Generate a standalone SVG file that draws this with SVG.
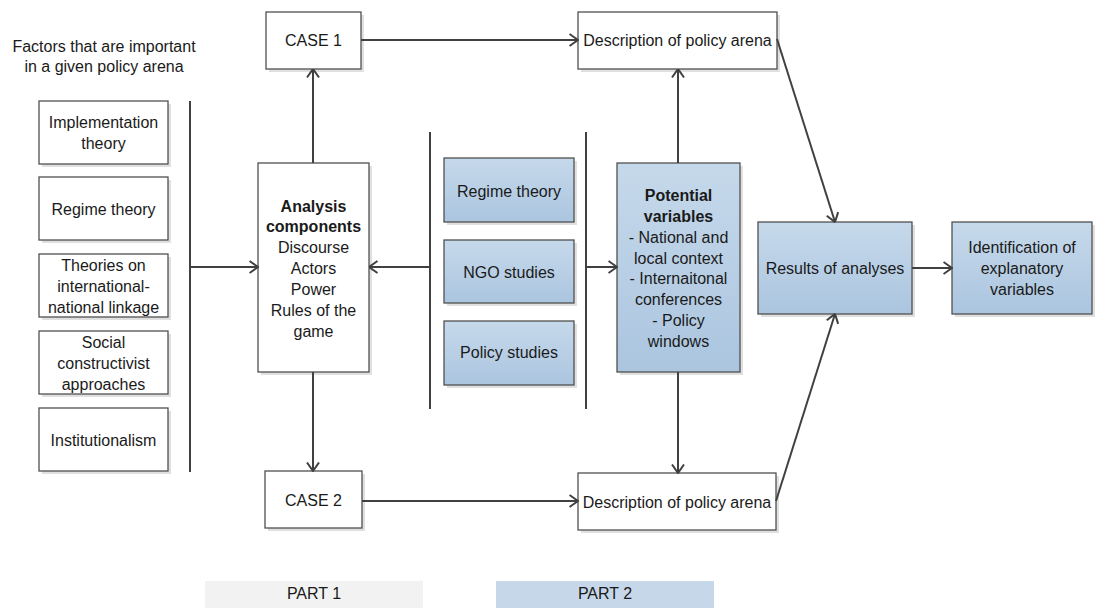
<svg xmlns="http://www.w3.org/2000/svg" width="1098" height="608" viewBox="0 0 1098 608">
<style>
text{font-family:"Liberation Sans",Arial,sans-serif;font-size:16px;fill:#1a1a1a;text-anchor:middle}
.b{font-weight:bold}
.w{fill:#fff;stroke:#505050;stroke-width:1.3}
.bl{fill:url(#g);stroke:#505050;stroke-width:1.3}
.sh{fill:#e0e0e0}
.c line,.c path{stroke:#404040;stroke-width:2;fill:none}
</style>
<defs>
<linearGradient id="g" x1="0" y1="0" x2="0" y2="1">
<stop offset="0" stop-color="#c6d9eb"/>
<stop offset="1" stop-color="#abc5df"/>
</linearGradient>
<marker id="a" viewBox="0 0 10 14" refX="9.5" refY="7" markerWidth="10" markerHeight="14" orient="auto" markerUnits="userSpaceOnUse">
<path d="M1,1 L9.5,7 L1,13" fill="none" stroke="#404040" stroke-width="2"/>
</marker>
</defs>
<rect width="1098" height="608" fill="#fff"/>

<g id="title">
<text x="104" y="52">Factors that are important</text>
<text x="104" y="72">in a given policy arena</text>
</g>

<g id="implementation">
<rect class="sh" x="42" y="104" width="129" height="63"/>
<rect class="w" x="39" y="101" width="129" height="63"/>
<text x="103.5" y="128">Implementation</text>
<text x="103.5" y="149">theory</text>
</g>
<g id="regime1">
<rect class="sh" x="42" y="180" width="129" height="63"/>
<rect class="w" x="39" y="177" width="129" height="63"/>
<text x="103.5" y="215">Regime theory</text>
</g>
<g id="linkage">
<rect class="sh" x="42" y="257" width="129" height="63"/>
<rect class="w" x="39" y="254" width="129" height="63"/>
<text x="103.5" y="271">Theories on</text>
<text x="103.5" y="292">international-</text>
<text x="103.5" y="313">national linkage</text>
</g>
<g id="social">
<rect class="sh" x="42" y="334" width="129" height="63"/>
<rect class="w" x="39" y="331" width="129" height="63"/>
<text x="103.5" y="348">Social</text>
<text x="103.5" y="369">constructivist</text>
<text x="103.5" y="390">approaches</text>
</g>
<g id="institutionalism">
<rect class="sh" x="42" y="411" width="129" height="63"/>
<rect class="w" x="39" y="408" width="129" height="63"/>
<text x="103.5" y="446">Institutionalism</text>
</g>

<g id="analysis">
<rect class="sh" x="261" y="166" width="111" height="209"/>
<rect class="w" x="258" y="163" width="111" height="209"/>
<text class="b" x="313.5" y="212">Analysis</text>
<text class="b" x="313.5" y="232">components</text>
<text x="313.5" y="253">Discourse</text>
<text x="313.5" y="274">Actors</text>
<text x="313.5" y="295">Power</text>
<text x="313.5" y="316">Rules of the</text>
<text x="313.5" y="337">game</text>
</g>

<g id="case1">
<rect class="sh" x="269" y="15" width="95" height="57"/>
<rect class="w" x="266" y="12" width="95" height="57"/>
<text x="313.5" y="46">CASE 1</text>
</g>
<g id="case2">
<rect class="sh" x="268" y="474" width="97" height="57"/>
<rect class="w" x="265" y="471" width="97" height="57"/>
<text x="313.5" y="506">CASE 2</text>
</g>

<g id="regime2">
<rect class="sh" x="447" y="161" width="130" height="64"/>
<rect class="bl" x="444" y="158" width="130" height="64"/>
<text x="509" y="197">Regime theory</text>
</g>
<g id="ngo">
<rect class="sh" x="447" y="243" width="130" height="63"/>
<rect class="bl" x="444" y="240" width="130" height="63"/>
<text x="509" y="278">NGO studies</text>
</g>
<g id="policy">
<rect class="sh" x="447" y="324" width="130" height="64"/>
<rect class="bl" x="444" y="321" width="130" height="64"/>
<text x="509" y="358">Policy studies</text>
</g>

<g id="potential">
<rect class="sh" x="620" y="166" width="123" height="209"/>
<rect class="bl" x="617" y="163" width="123" height="209"/>
<text class="b" x="678.5" y="201">Potential</text>
<text class="b" x="678.5" y="222">variables</text>
<text x="678.5" y="243">- National and</text>
<text x="678.5" y="264">local context</text>
<text x="678.5" y="284">- Internaitonal</text>
<text x="678.5" y="305">conferences</text>
<text x="678.5" y="326">- Policy</text>
<text x="678.5" y="347">windows</text>
</g>

<g id="desc1">
<rect class="sh" x="581" y="15" width="199" height="57"/>
<rect class="w" x="578" y="12" width="199" height="57"/>
<text x="677.5" y="46">Description of policy arena</text>
</g>
<g id="desc2">
<rect class="sh" x="581" y="476" width="198" height="57"/>
<rect class="w" x="578" y="473" width="198" height="57"/>
<text x="677" y="508">Description of policy arena</text>
</g>

<g id="results">
<rect class="sh" x="761" y="225" width="154" height="92"/>
<rect class="bl" x="758" y="222" width="154" height="92"/>
<text x="835" y="274">Results of analyses</text>
</g>
<g id="identification">
<rect class="sh" x="955" y="225" width="140" height="92"/>
<rect class="bl" x="952" y="222" width="140" height="92"/>
<text x="1022" y="253">Identification of</text>
<text x="1022" y="274">explanatory</text>
<text x="1022" y="295">variables</text>
</g>

<g id="connectors" class="c">
<line x1="190" y1="101" x2="190" y2="472"/>
<line x1="190" y1="267" x2="258" y2="267" marker-end="url(#a)"/>
<line x1="430" y1="132" x2="430" y2="409"/>
<line x1="430" y1="267" x2="369" y2="267" marker-end="url(#a)"/>
<line x1="586" y1="132" x2="586" y2="409"/>
<line x1="586" y1="267" x2="617" y2="267" marker-end="url(#a)"/>
<line x1="313" y1="163" x2="313" y2="69" marker-end="url(#a)"/>
<line x1="313" y1="372" x2="313" y2="471" marker-end="url(#a)"/>
<line x1="361" y1="40" x2="578" y2="40" marker-end="url(#a)"/>
<line x1="362" y1="501" x2="578" y2="501" marker-end="url(#a)"/>
<line x1="678" y1="163" x2="678" y2="69" marker-end="url(#a)"/>
<line x1="678" y1="372" x2="678" y2="473" marker-end="url(#a)"/>
<line x1="777" y1="39" x2="835" y2="222" marker-end="url(#a)"/>
<line x1="776" y1="501" x2="835" y2="314" marker-end="url(#a)"/>
<line x1="912" y1="268" x2="952" y2="268" marker-end="url(#a)"/>
</g>

<g id="part1">
<rect x="205" y="581" width="218" height="27" fill="#f2f2f2"/>
<text x="314" y="599">PART 1</text>
</g>
<g id="part2">
<rect x="496" y="581" width="218" height="27" fill="#c5d7e8"/>
<text x="605" y="599">PART 2</text>
</g>
</svg>
